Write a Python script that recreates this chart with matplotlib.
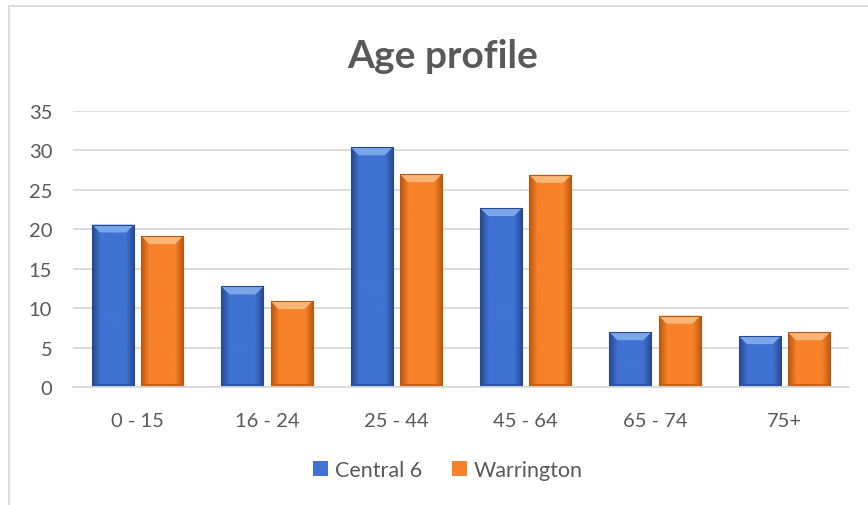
import numpy as np
import matplotlib
matplotlib.use("Agg")
import matplotlib.pyplot as plt
from matplotlib.patches import Polygon, Rectangle
from matplotlib.colors import LinearSegmentedColormap

categories = ["0 - 15", "16 - 24", "25 - 44", "45 - 64", "65 - 74", "75+"]
central6 = [20.6, 12.75, 30.4, 22.7, 6.95, 6.45]
warrington = [19.15, 10.9, 27.0, 26.9, 9.05, 6.95]
series_names = ["Central 6", "Warrington"]
yticks = [0, 5, 10, 15, 20, 25, 30, 35]

plt.rcParams['font.family'] = ['Lato', 'DejaVu Sans']
TXT = "#595959"
GRID = "#d9d9d9"

W, H, DPI = 868, 506, 100
fig = plt.figure(figsize=(W / DPI, H / DPI), dpi=DPI)
fig.patch.set_facecolor("white")

# chart border (left and top visible)
fig.add_artist(Rectangle((8.5 / W, -0.1), 2.0, (H - 6.5) / H + 0.1,
                         transform=fig.transFigure, fill=False,
                         edgecolor=GRID, linewidth=1.3))

ax_l, ax_r, ax_b, ax_t = 73, 849, 388, 112
ax = fig.add_axes([ax_l / W, (H - ax_b) / H, (ax_r - ax_l) / W, (ax_b - ax_t) / H])
ax.set_xlim(-0.5, len(categories) - 0.5)
ax.set_ylim(0, 35)
ax.set_yticks(yticks)
ax.set_xticks(np.arange(len(categories)))
ax.set_xticklabels(categories)
for s in ["top", "right", "left"]:
    ax.spines[s].set_visible(False)
ax.spines["bottom"].set_color(GRID)
ax.spines["bottom"].set_linewidth(1.3)
ax.yaxis.grid(True, color=GRID, linewidth=1.3)
ax.set_axisbelow(True)
ax.tick_params(axis="both", length=0, labelsize=14.5, labelcolor=TXT)
ax.tick_params(axis="y", pad=15)
ax.tick_params(axis="x", pad=18)

x = np.arange(len(categories))
bw = 0.325
off = 0.19

styles = [
    dict(mid="#3f72d2", edge="#26488f", top="#7aa6ea", bot="#2c56a8"),
    dict(mid="#f7822a", edge="#b9560f", top="#fbb574", bot="#c8601a"),
]

fig.canvas.draw()
px_x = ax.transData.transform((1, 0))[0] - ax.transData.transform((0, 0))[0]
px_y = ax.transData.transform((0, 1))[1] - ax.transData.transform((0, 0))[1]

handles = []
for vals, sign, st, name in [(central6, -1, styles[0], series_names[0]),
                             (warrington, 1, styles[1], series_names[1])]:
    bars = ax.bar(x + sign * off, vals, width=bw, color=st["mid"], label=name, zorder=2,
                  edgecolor="none")
    handles.append(bars)
    cmap = LinearSegmentedColormap.from_list(
        "g", [st["edge"], st["mid"], st["mid"], st["mid"], st["mid"], st["edge"]])
    grad = np.linspace(0, 1, 100).reshape(1, -1)
    for b in bars:
        x0, w, h = b.get_x(), b.get_width(), b.get_height()
        im = ax.imshow(grad, extent=(x0, x0 + w, 0, h), aspect="auto", cmap=cmap,
                       zorder=2.1, interpolation="bicubic")
        im.set_clip_path(b)
        dx = 8 / px_x
        dy = 8 / px_y
        sx = 2.5 / px_x
        # top bevel
        ax.add_patch(Polygon([(x0, h), (x0 + w, h), (x0 + w - dx, h - dy), (x0 + dx, h - dy)],
                             closed=True, facecolor=st["top"], edgecolor="none", zorder=2.3))
        # bottom bevel
        by = 3 / px_y
        ax.add_patch(Polygon([(x0, 0), (x0 + w, 0), (x0 + w - sx, by), (x0 + sx, by)],
                             closed=True, facecolor=st["bot"], edgecolor="none", zorder=2.3))
        # thin outline
        ax.add_patch(Rectangle((x0, 0), w, h, fill=False, edgecolor=st["edge"],
                               linewidth=0.8, zorder=2.4))

fig.text(443 / W, 1 - 57 / H, "Age profile", fontsize=28, fontweight="bold", color=TXT,
         ha="center", va="center")

leg = fig.legend(handles=handles, labels=series_names, loc="center",
                 bbox_to_anchor=(448 / W, 1 - 471 / H), ncol=2, frameon=False,
                 fontsize=15.5, labelcolor=TXT, handlelength=0.7, handleheight=0.7,
                 handletextpad=0.3, columnspacing=1.4)

fig.savefig("out.png", dpi=DPI, facecolor="white")
